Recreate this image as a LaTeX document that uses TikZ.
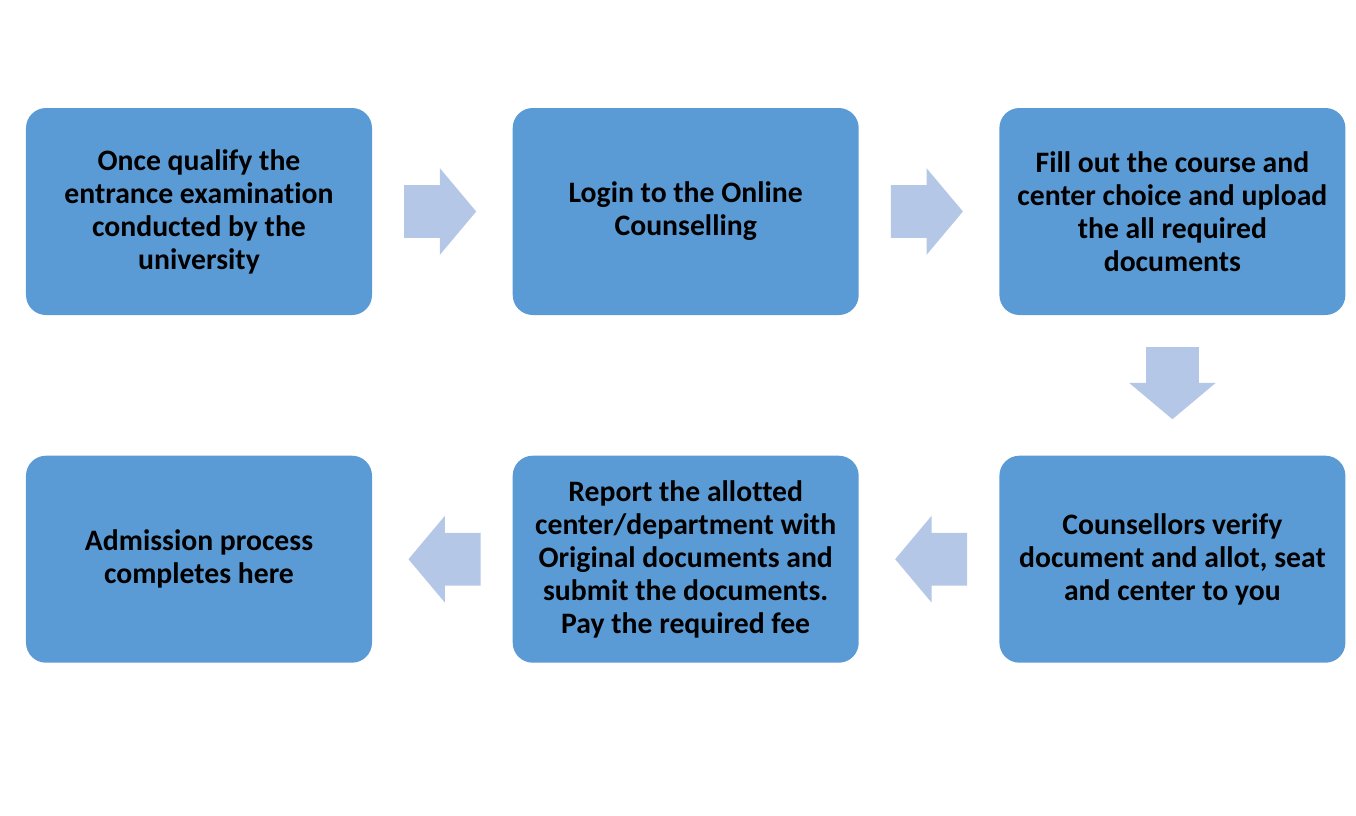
\documentclass[tikz,border=0pt]{standalone}
\usepackage{fontspec}
\setmainfont{Carlito}[Ligatures=NoCommon]
\usetikzlibrary{positioning,shapes.arrows,calc}

\definecolor{boxblue}{HTML}{5B9BD5}
\definecolor{arrowblue}{HTML}{B4C7E7}

\begin{document}
\begin{tikzpicture}[
    stage/.style={fill=boxblue, rounded corners=0.4cm, minimum width=6.92cm, minimum height=4.14cm,
        align=center, font=\bfseries\fontsize{16.9}{18.8}\selectfont, text=black},
    flowarrow/.style={single arrow, fill=arrowblue, inner xsep=0pt, inner ysep=0.52cm, anchor=tail,
        minimum height=1.44cm, single arrow head extend=0.34cm, single arrow tip angle=100},
    node distance=2.8cm]

    \useasboundingbox (0,0) rectangle (27.12,-16.3);

    \node[stage] (qualify) at (3.98,-4.23) {Once qualify the\\entrance examination\\conducted by the\\university};
    \node[stage, right=of qualify] (login) {Login to the Online\\Counselling};
    \node[stage, right=of login] (fill) {Fill out the course and\\center choice and upload\\the all required\\documents};

    \node[stage, below=of fill] (verify) {Counsellors verify\\document and allot, seat\\and center to you};
    \node[stage, left=of verify] (report) {Report the allotted\\center/department with\\Original documents and\\submit the documents.\\Pay the required fee};
    \node[stage, left=of report] (admit) {Admission process\\completes here};

    % block arrows, placed by their tails
    \node[flowarrow] (a1) at ($(qualify.east)!0.5!(login.west)+(-0.77,0)$) {};
    \node[flowarrow] (a2) at ($(login.east)!0.5!(fill.west)+(-0.77,0)$) {};
    \node[flowarrow, rotate=270] (a3) at ($(fill.south)!0.5!(verify.north)+(0,0.77)$) {};
    \node[flowarrow, rotate=180] (a4) at ($(verify.west)!0.5!(report.east)+(0.77,0)$) {};
    \node[flowarrow, rotate=180] (a5) at ($(report.west)!0.5!(admit.east)+(0.77,0)$) {};

\end{tikzpicture}
\end{document}
